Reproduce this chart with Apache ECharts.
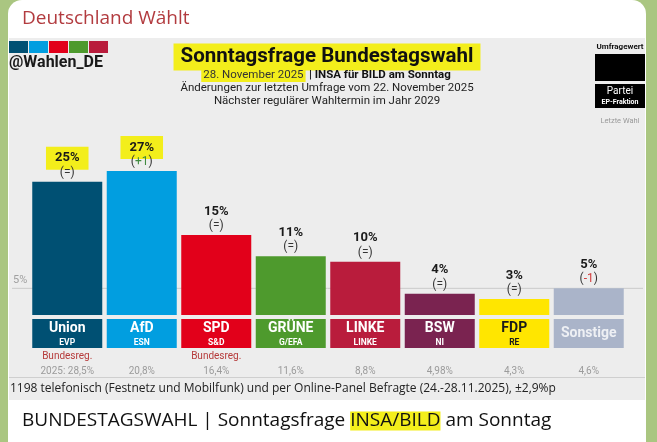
<!DOCTYPE html>
<html>
<head>
<meta charset="utf-8">
<script src="https://cdn.jsdelivr.net/npm/echarts@6.0.0/dist/echarts.min.js"></script>
<style>
  html, body { margin: 0; padding: 0; width: 657px; height: 442px; overflow: hidden; background: #aac681; }
  #card { position: absolute; left: 8px; top: 0; width: 638px; height: 442px; background: #fff; border-radius: 14px 14px 0 0; }
  #panel { position: absolute; left: 9px; top: 38px; width: 636px; height: 362px; background: #ededed; }
  #chart { position: absolute; left: 0; top: 0; width: 657px; height: 442px; }
</style>
</head>
<body>
<div id="card"></div>
<div id="panel"></div>
<div id="chart"></div>
<script>
// Umfragewerte
var parties = ['Union', 'AfD', 'SPD', 'GRÜNE', 'LINKE', 'BSW', 'FDP', 'Sonstige'];
var groups = ['EVP', 'ESN', 'S&D', 'G/EFA', 'LINKE', 'NI', 'RE', ''];
var values = [25, 27, 15, 11, 10, 4, 3, 5];
var changes = ['=', '+1', '=', '=', '=', '=', '=', '-1'];
var govNotes = ['Bundesreg.', '', 'Bundesreg.', '', '', '', '', ''];
var lastVote = ['2025: 28,5%', '20,8%', '16,4%', '11,6%', '8,8%', '4,98%', '4,3%', '4,6%'];
var marked = [true, true, false, false, false, false, false, false];
var guideLevel = 5;

var partyColors = ['#005073', '#019ee0', '#e2001a', '#4e9a2d', '#b91c3c', '#7a2350', '#ffe600', '#aab4c9'];
var nameColors = ['#fff', '#fff', '#fff', '#fff', '#fff', '#fff', '#1a1a1a', '#eef0f4'];
var F = 'Roboto, sans-serif';
var OS = '"Open Sans", sans-serif';
var YELLOW = '#f3ee1b';

var myChart = echarts.init(document.getElementById('chart'));

// Beschriftungen unter den Balken
var axisRich = {
  r: { color: '#b53a3a', fontSize: 10, lineHeight: 17, fontFamily: F },
  p: { color: '#9b9b9b', fontSize: 10, lineHeight: 12, fontFamily: F }
};
parties.forEach(function (p, i) {
  var h = groups[i] ? 18 : 29;
  axisRich['n' + i] = {
    backgroundColor: partyColors[i], color: nameColors[i], width: 70, height: h, lineHeight: h,
    align: 'center', fontSize: 14, fontWeight: 'bold', fontFamily: F
  };
  axisRich['g' + i] = {
    backgroundColor: partyColors[i], color: nameColors[i], width: 70, height: 11, lineHeight: 11,
    align: 'center', fontSize: 8.5, fontWeight: 'bold', fontFamily: F
  };
});

var option = {
  backgroundColor: 'transparent',
  animation: false,
  grid: { left: 30, right: 31, top: 155, bottom: 127 },
  xAxis: {
    type: 'category',
    data: parties,
    axisLine: { show: false },
    axisTick: { show: false },
    axisLabel: {
      interval: 0,
      margin: 4,
      rich: axisRich,
      formatter: function (v, i) {
        var s = '{n' + i + '|' + v + '}';
        if (groups[i]) s += '\n{g' + i + '|' + groups[i] + '}';
        s += '\n{r|' + (govNotes[i] || ' ') + '}';
        s += '\n{p|' + lastVote[i] + '}';
        return s;
      }
    }
  },
  yAxis: {
    type: 'value', min: 0, max: 30,
    show: false,
    splitLine: { show: false }
  },
  series: [{
    type: 'bar',
    data: values,
    barWidth: 70,
    itemStyle: {
      color: function (p) { return partyColors[p.dataIndex]; }
    },
    label: {
      show: true,
      position: 'top',
      distance: 2,
      formatter: function (p) {
        var i = p.dataIndex;
        var v = '{' + (marked[i] ? 'vh' : 'v') + '|' + values[i] + '%}';
        var c = changes[i];
        var ch = c === '=' ? '{c|(=)}' : '{c|(}{' + (c.charAt(0) === '+' ? 'up' : 'dn') + '|' + c + '}{c|)}';
        return v + '\n' + ch;
      },
      rich: {
        v: { fontSize: 13, fontWeight: 'bold', color: '#1a1a1a', lineHeight: 15, fontFamily: F },
        vh: { fontSize: 13, fontWeight: 'bold', color: '#1a1a1a', lineHeight: 15, fontFamily: F,
              backgroundColor: YELLOW, padding: [5, 9, 5, 9] },
        c: { fontSize: 12, color: '#333', lineHeight: 14, fontFamily: F },
        up: { fontSize: 12, color: '#3f8a3f', lineHeight: 14, fontFamily: F },
        dn: { fontSize: 12, color: '#d23a3a', lineHeight: 14, fontFamily: F }
      }
    }
  }]
};

myChart.setOption(option);

var y5 = myChart.convertToPixel({ yAxisIndex: 0 }, guideLevel);
var logo = ['#005073', '#019ee0', '#e2001a', '#4e9a2d', '#b91c3c'];
var graphics = [];

logo.forEach(function (c, i) {
  graphics.push({ type: 'rect', shape: { x: 9 + i * 20, y: 41, width: 19, height: 12 }, style: { fill: c } });
});

graphics.push(
  { type: 'text', x: 22, y: 19, style: { text: 'Deutschland Wählt', font: '19px ' + OS, fill: '#b23b3f', verticalAlign: 'middle' } },
  { type: 'text', x: 9, y: 63, style: { text: '@Wahlen_DE', font: 'bold 16px ' + F, fill: '#1a1a1a', verticalAlign: 'middle' } },
  { type: 'text', x: 327, y: 57, style: {
      text: '{h|Sonntagsfrage Bundestagswahl}', align: 'center', verticalAlign: 'middle',
      rich: { h: { fontSize: 20.5, fontWeight: 'bold', fontFamily: F, fill: '#111', backgroundColor: YELLOW, padding: [3, 7, 3, 7] } }
  } },
  { type: 'text', x: 326, y: 75, style: {
      text: '{d|28. November 2025} {b|| INSA für BILD am Sonntag}', align: 'center', verticalAlign: 'middle',
      rich: {
        d: { fontSize: 11.5, fontFamily: F, fill: '#333', backgroundColor: YELLOW, padding: [1, 2, 1, 2] },
        b: { fontSize: 11.5, fontFamily: F, fontWeight: 'bold', fill: '#111' }
      }
  } },
  { type: 'text', x: 327, y: 88, style: { text: 'Änderungen zur letzten Umfrage vom 22. November 2025', font: '11.5px ' + F, fill: '#222', align: 'center', verticalAlign: 'middle' } },
  { type: 'text', x: 327, y: 101, style: { text: 'Nächster regulärer Wahltermin im Jahr 2029', font: '11.5px ' + F, fill: '#222', align: 'center', verticalAlign: 'middle' } },
  // Legende rechts
  { type: 'text', x: 620, y: 47, style: { text: 'Umfragewert', font: 'bold 8px ' + F, fill: '#111', align: 'center', verticalAlign: 'middle' } },
  { type: 'rect', shape: { x: 595, y: 54, width: 50, height: 27 }, style: { fill: '#000' } },
  { type: 'rect', shape: { x: 595, y: 84, width: 50, height: 24 }, style: { fill: '#000' } },
  { type: 'text', x: 620, y: 91, style: { text: 'Partei', font: '10px ' + F, fill: '#fff', align: 'center', verticalAlign: 'middle' } },
  { type: 'text', x: 620, y: 102, style: { text: 'EP-Fraktion', font: 'bold 7px ' + F, fill: '#fff', align: 'center', verticalAlign: 'middle' } },
  { type: 'text', x: 620, y: 121, style: { text: 'Letzte Wahl', font: '7.5px ' + F, fill: '#999', align: 'center', verticalAlign: 'middle' } },
  // 5%-Linie
  { type: 'line', z: -1, shape: { x1: 12, y1: y5, x2: 643, y2: y5 }, style: { stroke: '#cacaca', lineWidth: 1 } },
  { type: 'text', x: 13, y: y5 - 8, style: { text: guideLevel + '%', font: '11px ' + F, fill: '#a0a0a0', verticalAlign: 'middle' } },
  // Fußzeile
  { type: 'line', shape: { x1: 9, y1: 377.5, x2: 645, y2: 377.5 }, style: { stroke: '#cfcfcf', lineWidth: 1 } },
  { type: 'text', x: 10, y: 389, style: { text: '1198 telefonisch (Festnetz und Mobilfunk) und per Online-Panel Befragte (24.-28.11.2025), ±2,9%p', font: '12px ' + OS, fill: '#222', verticalAlign: 'middle' } },
  { type: 'text', x: 22, y: 421, style: {
      text: '{t|BUNDESTAGSWAHL | Sonntagsfrage }{hl|INSA/BILD}{t| am Sonntag}', verticalAlign: 'middle',
      rich: {
        t: { fontSize: 19, fontFamily: OS, fill: '#111' },
        hl: { fontSize: 19, fontFamily: OS, fill: '#111', backgroundColor: YELLOW }
      }
  } }
);

myChart.setOption({ graphic: graphics });
</script>
</body>
</html>
